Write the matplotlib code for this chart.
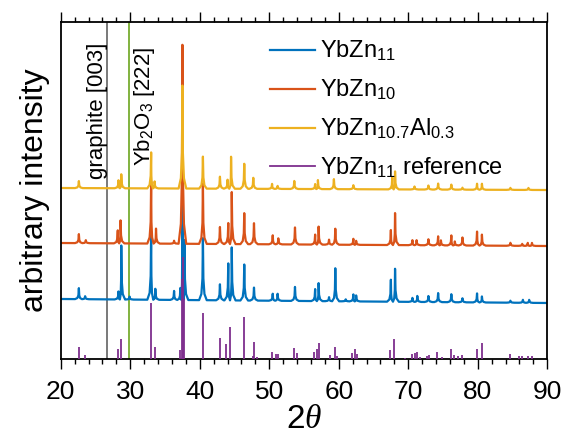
import matplotlib
matplotlib.use('Agg')
import matplotlib.pyplot as plt
from matplotlib.ticker import MultipleLocator
import numpy as np

plt.rcParams['font.family'] = ['Liberation Sans', 'DejaVu Sans']
plt.rcParams['mathtext.fontset'] = 'custom'
plt.rcParams['mathtext.rm'] = 'Liberation Sans'
plt.rcParams['mathtext.it'] = 'Liberation Serif:italic'

#-------------------------------------------------------------------------
# data (2theta in deg, intensity in arbitrary units)
#-------------------------------------------------------------------------

# (position, height above the trace baseline)
blue_pos = [22.6, 23.5, 28.3, 28.7, 29.9, 33.0, 33.6, 36.3, 37.2, 37.5, 37.8,
            40.45, 42.9, 44.1, 44.6, 46.4, 47.8, 50.5, 51.2, 53.7, 56.6, 57.1,
            58.6, 59.5, 61.0, 62.1, 62.5, 67.5, 68.1, 70.6, 71.3, 72.9, 74.3,
            76.2, 77.8, 79.9, 80.6, 84.7, 86.5, 87.4]
blue_int = [11, 3, 8, 54, 3, 68, 11, 9, 12, 170, 60,
            62, 16, 37, 53, 36, 13, 7, 7, 14, 12, 18,
            4, 33, 2, 7, 6, 22, 33, 4, 6, 6, 9,
            8, 4, 9, 6, 2, 3, 3]
blue_base = [60, 56]

orange_pos = [22.6, 23.6, 28.2, 28.6, 33.0, 33.7, 36.3, 37.5, 40.45, 42.9,
              44.1, 44.6, 46.4, 47.8, 50.5, 51.3, 53.7, 56.6, 57.1, 58.6,
              59.5, 62.1, 62.5, 67.5, 68.1, 70.6, 71.2, 72.9, 74.3, 74.7,
              76.2, 76.7, 77.8, 79.9, 80.6, 84.7, 86.4, 87.2, 87.8]
orange_int = [9, 3, 13, 23, 62, 15, 3, 199, 60, 17,
              21, 52, 31, 21, 9, 6, 17, 10, 18, 5,
              16, 6, 4, 15, 32, 5, 5, 6, 9, 5,
              10, 4, 8, 14, 11, 3, 2, 3, 3]
orange_base = [116, 113]

yellow_pos = [22.6, 28.3, 28.7, 33.0, 33.5, 37.5, 40.45, 42.9, 44.0, 44.5,
              46.4, 47.7, 50.4, 51.2, 53.6, 56.6, 57.0, 59.3, 62.1, 67.7,
              68.1, 70.9, 72.9, 74.3, 76.2, 77.8, 79.9, 80.6, 84.7, 87.3]
yellow_int = [7, 8, 14, 36, 7, 103, 32, 12, 9, 32,
              25, 11, 5, 3, 8, 5, 9, 10, 4, 12,
              18, 3, 4, 6, 5, 2, 6, 6, 2, 2]
yellow_base = [171, 169]

ref_pos = [22.6, 23.5, 28.2, 28.6, 33.0, 33.6, 37.2, 37.4, 37.6, 37.8,
           40.45, 42.9, 43.8, 44.4, 46.3, 47.6, 47.8, 48.3, 50.4, 51.0,
           51.3, 53.6, 54.0, 56.5, 56.9, 57.1, 58.7, 59.4, 59.7, 61.9,
           62.3, 62.6, 67.4, 68.0, 69.5, 70.5, 70.9, 71.2, 71.7, 72.7,
           73.0, 74.2, 74.8, 76.1, 76.6, 77.2, 77.8, 79.9, 80.6, 84.7,
           86.0, 86.4, 87.3, 87.8]
ref_int = [12, 4, 10, 20, 56, 12, 9, 80, 102, 60,
           46, 21, 15, 32, 42, 3, 17, 2, 7, 5,
           5, 11, 6, 7, 10, 16, 4, 12, 3, 6,
           10, 5, 9, 20, 1, 5, 6, 7, 2, 3,
           4, 7, 2, 10, 4, 3, 4, 10, 16, 5,
           3, 3, 3, 3]

graphite_pos = 26.6
yb2o3_pos = 29.75

#-------------------------------------------------------------------------
# trace: peak list -> line vertices
#-------------------------------------------------------------------------

def trace( pos, height, base, xmin=20.0, xmax=90.0, width=0.55 ):
  pos = np.asarray( pos, float )
  height = np.asarray( height, float )
  order = np.argsort( pos )
  pos, height = pos[order], height[order]
  gaps = np.diff( np.concatenate( [[xmin - 10], pos, [xmax + 10]] ) )
  xs, ys = [xmin], [0.0]
  frac_dx = [-1.0, -0.4, -0.12, 0.0, 0.12, 0.4, 1.0]
  frac_h  = [0.0, 0.1, 0.35, 1.0, 0.35, 0.1, 0.0]
  for i, (p, h) in enumerate( zip( pos, height ) ):
    wl = min( width, gaps[i] / 2 )
    wr = min( width, gaps[i + 1] / 2 )
    for fx, fh in zip( frac_dx, frac_h ):
      xs.append( p + fx * ( wl if fx < 0 else wr ) )
      ys.append( fh * h )
  xs.append( xmax )
  ys.append( 0.0 )
  xs = np.array( xs )
  slope = base[0] + ( base[1] - base[0] ) * ( xs - xmin ) / ( xmax - xmin )
  return xs, np.array( ys ) + slope

#-------------------------------------------------------------------------
# figure
#-------------------------------------------------------------------------

fig = plt.figure( figsize=(5.63, 4.41), dpi=100 )
ax = fig.add_axes( [0.108, 0.186, 0.864, 0.764] )

colors = ['#0072BD', '#D95319', '#EDB120', '#7E2F8E']

ax.axvline( graphite_pos, color='#6e6e6e', lw=1.3, zorder=1 )
ax.axvline( yb2o3_pos, color='#77AC30', lw=1.3, zorder=1 )

for (p, h, b), c, lab in zip(
    [(blue_pos, blue_int, blue_base), (orange_pos, orange_int, orange_base),
     (yellow_pos, yellow_int, yellow_base)],
    colors[:3], [r'YbZn$_{11}$', r'YbZn$_{10}$', r'YbZn$_{10.7}$Al$_{0.3}$'] ):
  x, y = trace( p, h, b )
  ax.plot( x, y, color=c, lw=1.6, label=lab, zorder=2 )

ax.vlines( ref_pos, 0, ref_int, color=colors[3], lw=1.3, zorder=3 )
ax.plot( [], [], color=colors[3], lw=1.3, label=r'YbZn$_{11}$ reference' )

ax.text( 25.3, 180, 'graphite [003]', rotation=90, rotation_mode='anchor',
         ha='left', va='center', fontsize=16 )
ax.text( 32.0, 193, r'Yb$_2$O$_3$ [222]', rotation=90, rotation_mode='anchor',
         ha='left', va='center', fontsize=16 )

ax.set_xlim( 20, 90 )
ax.set_ylim( 0, 337 )
ax.xaxis.set_major_locator( MultipleLocator( 10 ) )
ax.xaxis.set_minor_locator( MultipleLocator( 2 ) )
ax.set_yticks( [] )
ax.tick_params( axis='x', which='both', direction='out', top=True,
                labeltop=False, width=1.0, labelsize=19, pad=8 )
ax.tick_params( axis='x', which='major', length=7 )
ax.tick_params( axis='x', which='minor', length=3.5 )
for s in ax.spines.values():
  s.set_linewidth( 1.3 )

ax.set_xlabel( r'2$\theta$', fontsize=24, labelpad=0 )
ax.set_ylabel( 'arbitrary intensity', fontsize=23, labelpad=8 )

ax.legend( loc='upper left', bbox_to_anchor=(0.43, 0.95), frameon=False,
           fontsize=17, handlelength=1.9, handletextpad=0.2,
           labelspacing=0.62, borderaxespad=0, borderpad=0 )

fig.savefig( 'out.png', dpi=100 )
